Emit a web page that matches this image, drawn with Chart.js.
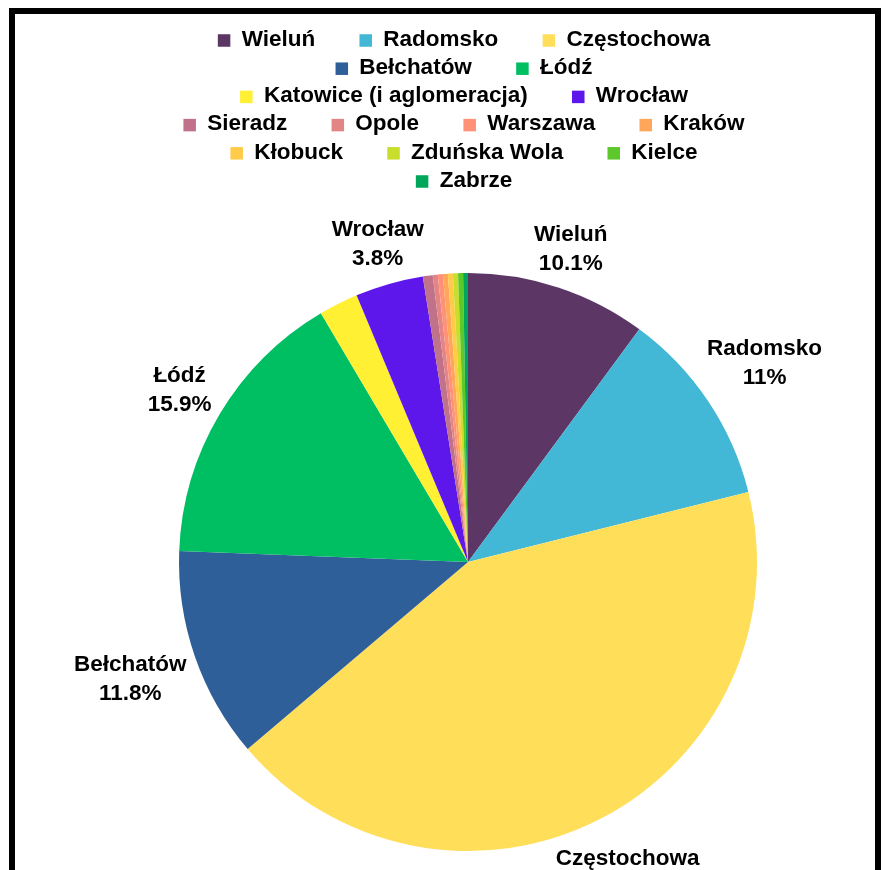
<!DOCTYPE html>
<html lang="pl">
<head>
    <meta charset="UTF-8">
    <meta name="viewport" content="width=device-width, initial-scale=1.0">
    <title>Udział miast</title>
    <style>
body {
    margin: 0;
    padding: 0;
    width: 885px;
    height: 870px;
    overflow: hidden;
    background-color: #fff;
    position: relative;
    font-family: 'Liberation Sans', Arial, sans-serif;
}

#chart {
    position: absolute;
    left: 0;
    top: 0;
}

/* black frame, open at the bottom like the cropped original */
#frame {
    position: absolute;
    left: 9px;
    top: 8px;
    width: 872px;
    height: 960px;
    border: 6px solid #000;
    box-sizing: border-box;
    pointer-events: none;
}
    </style>
</head>
<body>
    <canvas id="chart" width="885" height="870"></canvas>
    <div id="frame"></div>

    <script src="https://cdn.jsdelivr.net/npm/chart.js"></script>
    <script>
        // Data (percent of total)
        const cities = [
            'Wieluń', 'Radomsko', 'Częstochowa', 'Bełchatów', 'Łódź',
            'Katowice (i aglomeracja)', 'Wrocław', 'Sieradz', 'Opole', 'Warszawa',
            'Kraków', 'Kłobuck', 'Zduńska Wola', 'Kielce', 'Zabrze'
        ];
        const shares = [10.1, 11, 42.7, 11.8, 15.9, 2.2, 3.8, 0.55, 0.28, 0.28, 0.28, 0.28, 0.28, 0.28, 0.27];
        const colours = [
            '#5c3765', '#42b7d6', '#ffde59', '#2f5f98', '#00bf63',
            '#fff034', '#5e17eb', '#c1728b', '#e38585', '#ff9177',
            '#ffa65a', '#ffcb48', '#c8dd2c', '#5cc82a', '#00a65a'
        ];
        const labelMin = 3;   // slices below this get no outside label

        const boldFont = size => 'bold ' + size + 'px "Liberation Sans", Arial, sans-serif';

        // Legend drawn on the canvas so rows and gaps match the original
        const cityLegend = {
            id: 'cityLegend',
            afterDraw(chart) {
                const ctx = chart.ctx;
                const box = 12.5, boxGap = 11.3, itemGap = 44.3, maxRow = 572;
                const centreX = 464, firstRowY = 39.5, rowStep = 28.2;

                ctx.save();
                ctx.font = boldFont(22.5);
                ctx.textBaseline = 'middle';
                ctx.textAlign = 'left';

                const rows = [];
                let row = [], rowW = 0;
                cities.forEach((name, i) => {
                    const w = box + boxGap + ctx.measureText(name).width;
                    if (row.length && rowW + itemGap + w > maxRow) {
                        rows.push({ items: row, w: rowW });
                        row = [];
                        rowW = 0;
                    }
                    rowW += row.length ? itemGap + w : w;
                    row.push({ name: name, colour: colours[i], w: w });
                });
                rows.push({ items: row, w: rowW });

                rows.forEach((r, ri) => {
                    const y = firstRowY + ri * rowStep;
                    let x = centreX - r.w / 2;
                    r.items.forEach(it => {
                        ctx.fillStyle = it.colour;
                        ctx.fillRect(x, y - box / 2 + 1, box, box);
                        ctx.fillStyle = '#000';
                        ctx.fillText(it.name, x + box + boxGap, y);
                        x += it.w + itemGap;
                    });
                });
                ctx.restore();
            }
        };

        // Name + percent outside the bigger slices
        const outsideLabels = {
            id: 'outsideLabels',
            afterDatasetsDraw(chart) {
                const ctx = chart.ctx;
                const meta = chart.getDatasetMeta(0);
                ctx.save();
                ctx.font = boldFont(22.5);
                ctx.fillStyle = '#000';
                ctx.textAlign = 'center';
                ctx.textBaseline = 'middle';
                meta.data.forEach((arc, i) => {
                    if (shares[i] < labelMin) return;
                    const p = arc.getProps(['x', 'y', 'startAngle', 'endAngle', 'outerRadius'], true);
                    const mid = (p.startAngle + p.endAngle) / 2;
                    const dx = Math.cos(mid), dy = Math.sin(mid);
                    const lines = [cities[i], shares[i] + '%'];
                    const w = Math.max(...lines.map(l => ctx.measureText(l).width));
                    const h = 44;
                    const dist = p.outerRadius + 8 + Math.abs(dx) * w / 2 + Math.abs(dy) * h / 2;
                    const cx = p.x + dx * dist, cy = p.y + dy * dist;
                    ctx.fillText(lines[0], cx, cy - 14.5);
                    ctx.fillText(lines[1], cx, cy + 14.5);
                });
                ctx.restore();
            }
        };

        const ctx = document.getElementById('chart').getContext('2d');
        const chart = new Chart(ctx, {
            type: 'pie',
            data: {
                labels: cities,
                datasets: [{
                    data: shares,
                    backgroundColor: colours,
                    borderWidth: 0
                }]
            },
            options: {
                responsive: false,
                animation: false,
                devicePixelRatio: 1,
                radius: 289,
                layout: {
                    padding: { left: 51, right: 0, top: 254, bottom: 0 }
                },
                plugins: {
                    legend: { display: false },
                    tooltip: { enabled: false }
                }
            },
            plugins: [cityLegend, outsideLabels]
        });
    </script>
</body>
</html>
